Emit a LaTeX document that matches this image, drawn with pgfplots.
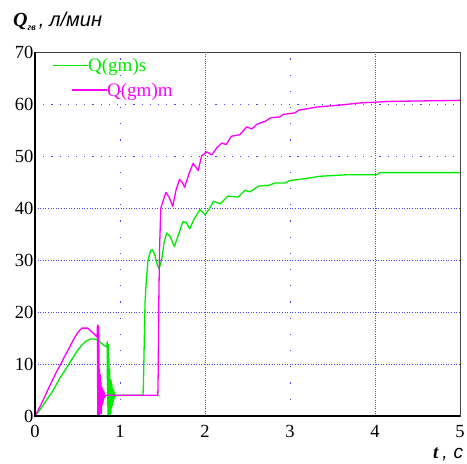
\documentclass[border=0pt]{standalone}
\usepackage{pgfplots}
\pgfplotsset{compat=1.18}
\usepackage{fontspec}
\setmainfont{Liberation Serif}
\newfontfamily\sansf{Liberation Sans}
\newfontfamily\serff{Liberation Serif}
\definecolor{cgreen}{RGB}{0,235,0}
\definecolor{cmag}{RGB}{255,0,255}
\definecolor{gridblue}{RGB}{70,70,255}

\pgfplotstableread{
t q
0 0
0.05 1.0
0.1 2.2
0.15 3.4
0.2 4.6
0.25 6.0
0.3 7.5
0.35 8.7
0.4 10.0
0.45 11.3
0.5 12.6
0.55 13.6
0.6 14.4
0.65 14.8
0.7 14.8
0.74 14.6
0.78 14.0
0.82 13.5
0.845 13.3
0.85 14.3
0.853 2
0.856 12
0.859 0
0.862 13.8
0.866 0
0.87 11
0.874 1
0.878 9
0.882 0
0.886 7
0.89 0.5
0.895 6.9
0.9 1.5
0.905 6
0.91 2
0.915 5.3
0.92 2.8
0.925 5
0.93 3.3
0.935 4.6
0.94 3.6
0.95 4
1.27 4
1.275 5.6
1.285 14
1.295 22
1.31 26.2
1.33 30
1.36 31.8
1.38 32
1.41 31
1.44 29
1.46 28.3
1.49 30
1.52 33.5
1.55 35.2
1.59 34.5
1.64 32.6
1.68 34.5
1.74 37.4
1.78 37.2
1.82 36
1.87 37.8
1.94 39.7
2.0 38.7
2.05 39.8
2.1 41.3
2.18 40.8
2.27 42.3
2.33 42.2
2.39 42.1
2.47 43.4
2.53 43.1
2.63 44.2
2.76 44.4
2.82 44.8
2.94 44.8
3.0 45.3
3.16 45.6
3.35 46.1
3.67 46.4
4.02 46.4
4.06 46.8
5.0 46.8
}\datas

\pgfplotstableread{
t q
0 0
0.05 1.5
0.1 3.2
0.15 5
0.2 6.7
0.25 8.4
0.3 9.9
0.35 11.5
0.4 13.0
0.45 14.6
0.5 16.0
0.55 16.9
0.62 16.9
0.66 16.3
0.7 15.7
0.73 15.2
0.735 17.5
0.738 0
0.742 16
0.746 0
0.75 17.3
0.754 2
0.758 9
0.762 0
0.766 8
0.77 1
0.775 6.5
0.78 0.5
0.785 5.6
0.79 2.1
0.795 5.2
0.8 2.6
0.81 4.8
0.82 3.5
0.83 4
1.445 4
1.45 9
1.455 20
1.465 32
1.48 40
1.51 41.5
1.54 43
1.58 42
1.62 40.3
1.66 43.5
1.70 45.5
1.73 45
1.76 44
1.81 46.5
1.86 48.6
1.92 47.2
1.96 50.0
2.02 50.8
2.08 50.2
2.14 51.6
2.2 52.5
2.25 52.2
2.31 53.8
2.41 54.1
2.49 55.6
2.55 55.2
2.61 56.1
2.71 56.7
2.78 57.4
2.88 57.5
2.92 58.0
3.06 58.3
3.1 58.8
3.31 59.4
3.59 59.8
3.82 60.2
4.18 60.5
5.0 60.7
}\datam

\begin{document}
\begin{tikzpicture}
\path[use as bounding box] (-35pt,-48pt) rectangle (432pt,416pt);
\begin{axis}[
  at={(0pt,0pt)}, anchor=south west,
  scale only axis, width=425pt, height=364pt,
  xmin=0, xmax=5, ymin=0, ymax=70,
  xtick={0,1,2,3,4,5}, ytick={0,10,20,30,40,50,60,70},
  xticklabel={\serff\pgfmathprintnumber{\tick}},
  yticklabel={\serff\pgfmathprintnumber{\tick}},
  major tick length=0pt,
  axis line style={draw=black!75, line width=0.8pt},
  tick label style={font=\serff\fontsize{18.5}{20}\selectfont},
  /pgf/number format/assume math mode=true,
  xticklabel style={yshift=-5.5pt},
  yticklabel style={xshift=2pt},
]
\pgfplotsinvokeforeach{10,20,30,40}{
  \draw[gridblue, line width=0.9pt, dash pattern=on 1pt off 1.6pt] (axis cs:0,#1) -- (axis cs:5,#1);
}
\pgfplotsinvokeforeach{50,60}{
  \draw[gridblue, line width=0.9pt, dash pattern=on 1.2pt off 7pt] (axis cs:0,#1) -- (axis cs:5,#1);
}
\pgfplotsinvokeforeach{2,4}{
  \draw[gridblue, line width=0.9pt, dash pattern=on 1pt off 1.2pt] (axis cs:#1,0) -- (axis cs:#1,70);
}
\pgfplotsinvokeforeach{1,3}{
  \draw[gridblue, line width=0.9pt, dash pattern=on 1.2pt off 15pt] (axis cs:#1,0) -- (axis cs:#1,70);
}
\addplot[cgreen, line width=1.3pt, line join=round] table[x=t,y=q] {\datas};
\addplot[cmag, line width=1.3pt, line join=round] table[x=t,y=q] {\datam};
\end{axis}
\draw[black, line width=1.5pt] (0pt,364pt) -- (0pt,0pt) -- (425pt,0pt);
% legend
\draw[cgreen, line width=1.3pt] (18pt,350.7pt) -- (53pt,350.7pt);
\node[anchor=west, inner sep=0pt, text=cgreen, font=\serff\fontsize{19}{20}\selectfont] at (53pt,349pt) {Q(gm)s};
\draw[cmag, line width=1.3pt] (36.7pt,326pt) -- (72pt,326pt);
\node[anchor=west, inner sep=0pt, text=cmag, font=\serff\fontsize{19}{20}\selectfont] at (72pt,324.5pt) {Q(gm)m};
% axis titles
\node[anchor=base west, inner sep=0pt] at (-22pt,389pt) {\fontsize{20}{22}\selectfont\bfseries\itshape Q\raisebox{-3.5pt}{\fontsize{10}{11}\selectfont гв}\hspace{3pt}{\sansf\mdseries\itshape\fontsize{20}{22}\selectfont ,\hspace{5pt}л/мин}};
\node[anchor=base west, inner sep=0pt] at (398pt,-43pt) {\fontsize{19}{20}\selectfont\bfseries\itshape t\hspace{4pt}{\sansf\mdseries\itshape\fontsize{19}{20}\selectfont ,\hspace{6pt}c}};
\end{tikzpicture}
\end{document}
